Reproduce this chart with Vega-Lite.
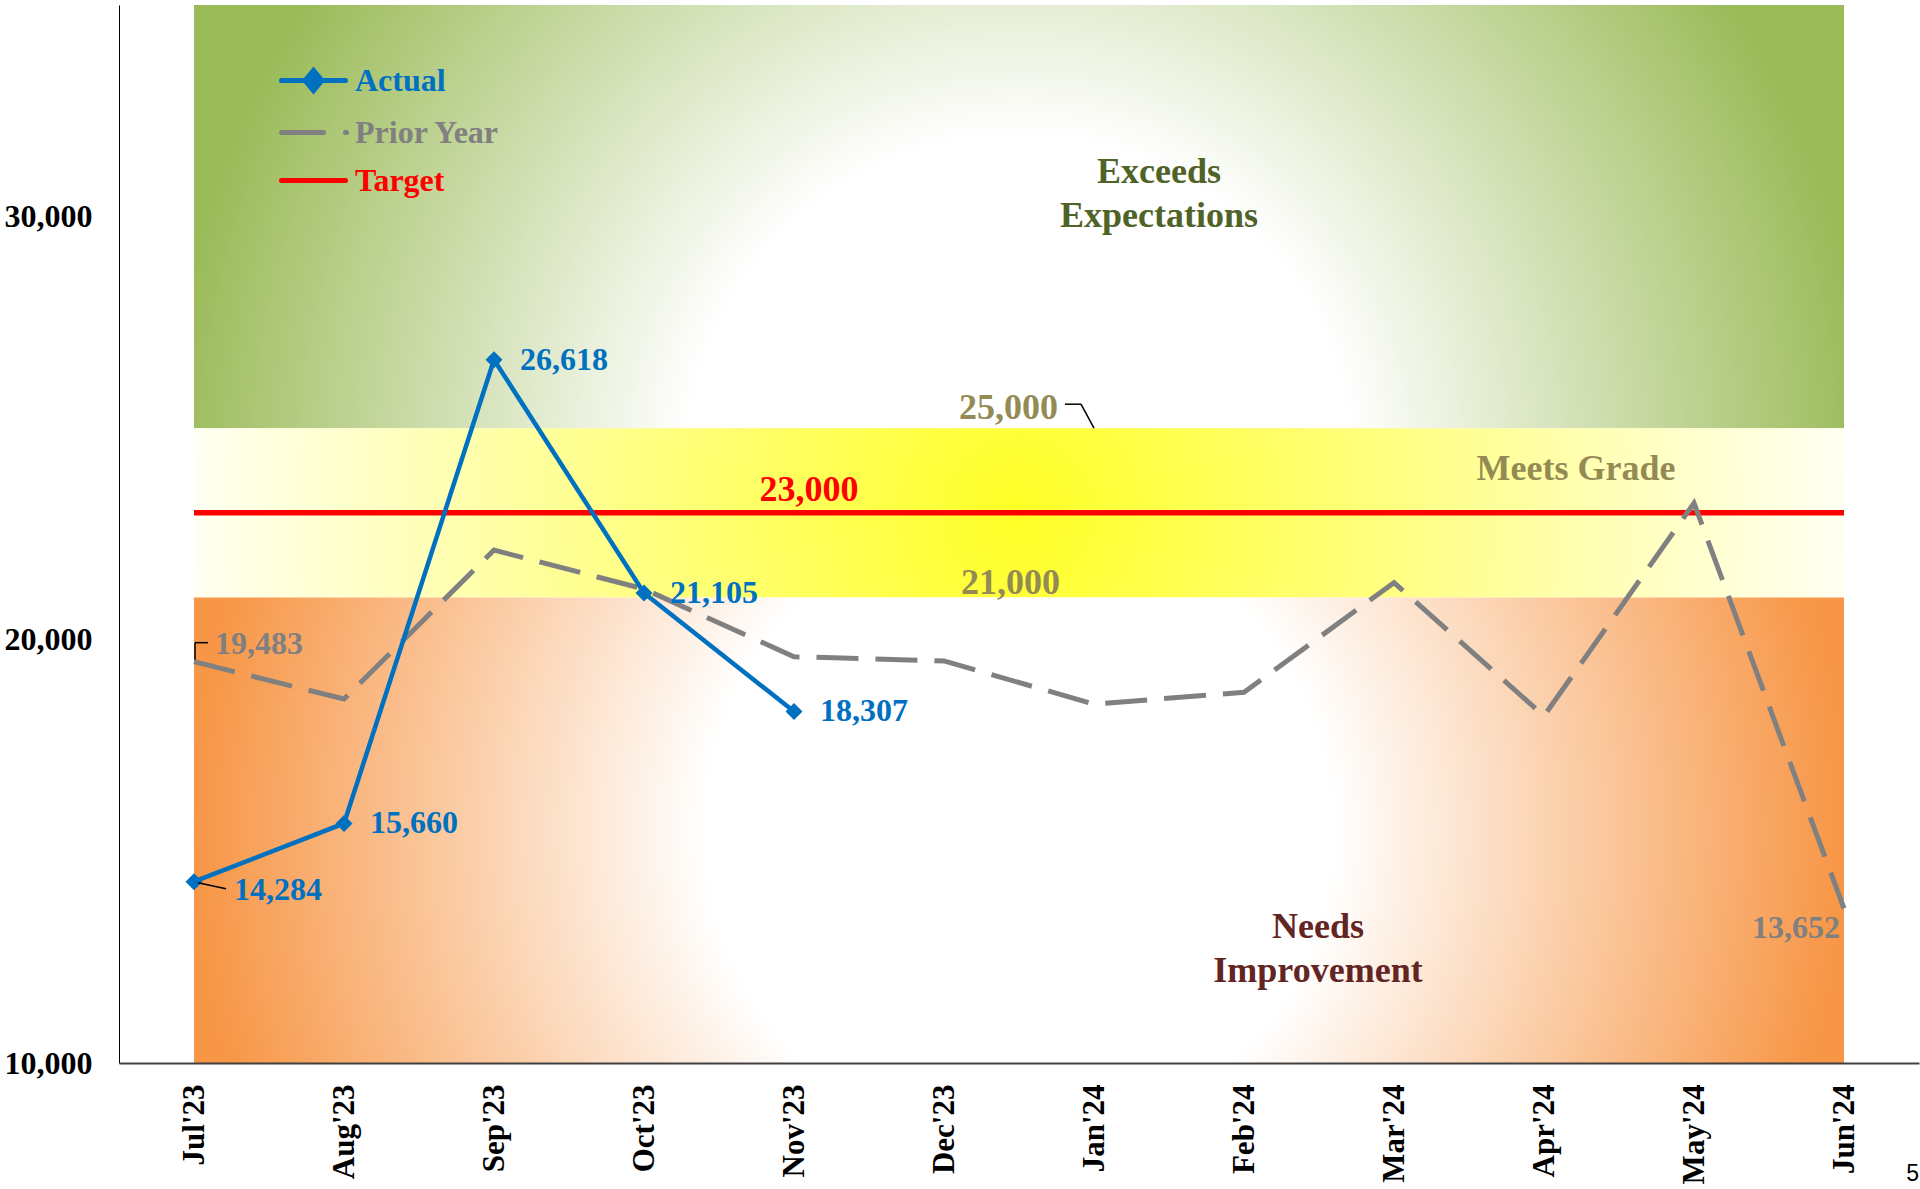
{
  "$schema": "https://vega.github.io/schema/vega-lite/v6.json",
  "width": 1800,
  "height": 1058,
  "autosize": {"type": "none"},
  "padding": {"left": 119, "top": 5, "right": 1, "bottom": 126},
  "background": "white",
  "config": {"view": {"stroke": null}, "font": "Liberation Serif"},
  "title": {"text": "5", "orient": "bottom", "anchor": "end", "frame": "group", "font": "Liberation Sans", "fontSize": 23, "fontWeight": "normal", "color": "black", "offset": -21},
  "datasets": {
    "series": [
      {"series": "Actual", "month": "Jul'23", "value": 14284},
      {"series": "Actual", "month": "Aug'23", "value": 15660},
      {"series": "Actual", "month": "Sep'23", "value": 26618},
      {"series": "Actual", "month": "Oct'23", "value": 21105},
      {"series": "Actual", "month": "Nov'23", "value": 18307},
      {"series": "Prior Year", "month": "Jul'23", "value": 19483},
      {"series": "Prior Year", "month": "Aug'23", "value": 18600},
      {"series": "Prior Year", "month": "Sep'23", "value": 22120},
      {"series": "Prior Year", "month": "Oct'23", "value": 21200},
      {"series": "Prior Year", "month": "Nov'23", "value": 19600},
      {"series": "Prior Year", "month": "Dec'23", "value": 19500},
      {"series": "Prior Year", "month": "Jan'24", "value": 18480},
      {"series": "Prior Year", "month": "Feb'24", "value": 18760},
      {"series": "Prior Year", "month": "Mar'24", "value": 21350},
      {"series": "Prior Year", "month": "Apr'24", "value": 18200},
      {"series": "Prior Year", "month": "May'24", "value": 23230},
      {"series": "Prior Year", "month": "Jun'24", "value": 13652},
      {"series": "Target", "month": "Jul'23", "value": 23000},
      {"series": "Target", "month": "Aug'23", "value": 23000},
      {"series": "Target", "month": "Sep'23", "value": 23000},
      {"series": "Target", "month": "Oct'23", "value": 23000},
      {"series": "Target", "month": "Nov'23", "value": 23000},
      {"series": "Target", "month": "Dec'23", "value": 23000},
      {"series": "Target", "month": "Jan'24", "value": 23000},
      {"series": "Target", "month": "Feb'24", "value": 23000},
      {"series": "Target", "month": "Mar'24", "value": 23000},
      {"series": "Target", "month": "Apr'24", "value": 23000},
      {"series": "Target", "month": "May'24", "value": 23000},
      {"series": "Target", "month": "Jun'24", "value": 23000}
    ],
    "notes": [
      {"key": "hi", "month": "Jan'24", "value": 25000, "label": "25,000"},
      {"key": "lo", "month": "Jan'24", "value": 21000, "label": "21,000"},
      {"key": "tg", "month": "Nov'23", "value": 23000, "label": "23,000"},
      {"key": "mg", "month": "Apr'24", "value": 24000, "label": "Meets Grade"},
      {"key": "ex", "month": "Jan'24", "value": 30000, "label": ["Exceeds", "Expectations"]},
      {"key": "ni", "month": "Feb'24", "value": 12500, "label": ["Needs", "Improvement"]}
    ]
  },
  "encoding": {
    "x": {
      "field": "month", "type": "ordinal",
      "scale": {"type": "point", "padding": 0.5, "domain": ["Jul'23", "Aug'23", "Sep'23", "Oct'23", "Nov'23", "Dec'23", "Jan'24", "Feb'24", "Mar'24", "Apr'24", "May'24", "Jun'24"]},
      "axis": {"title": null, "labelAngle": -90, "labelFont": "Liberation Serif", "labelFontWeight": "bold", "labelFontSize": 31, "labelColor": "black", "labelPadding": 21, "ticks": false, "grid": false, "domainColor": "#404040", "domainWidth": 2}
    },
    "y": {
      "field": "value", "type": "quantitative",
      "scale": {"domain": [10000, 35000], "nice": false, "zero": false},
      "axis": {"title": null, "values": [10000, 20000, 30000], "format": ",.0f", "ticks": false, "grid": false, "labelFont": "Liberation Serif", "labelFontWeight": "bold", "labelFontSize": 32, "labelColor": "black", "labelPadding": 27, "domainColor": "black", "domainWidth": 1}
    }
  },
  "layer": [
    {
      "data": {"values": [{"month": "Jul'23", "end": "Jun'24", "value": 25000, "high": 35000}]},
      "mark": {"type": "rect", "color": {"gradient": "radial", "x1": 0.5, "y1": 0.652, "r1": 0, "x2": 0.5, "y2": 0.652, "r2": 0.515, "stops": [{"offset": 0, "color": "#FFFFFF"}, {"offset": 0.39, "color": "#FFFFFF"}, {"offset": 1, "color": "#9BBB59"}]}},
      "encoding": {"x2": {"field": "end"}, "y2": {"field": "high"}}
    },
    {
      "data": {"values": [{"month": "Jul'23", "end": "Jun'24", "value": 21000, "high": 25000}]},
      "mark": {"type": "rect", "color": {"gradient": "radial", "x1": 0.5, "y1": 0.5, "r1": 0, "x2": 0.5, "y2": 0.5, "r2": 0.5, "stops": [{"offset": 0, "color": "#FFFF26"}, {"offset": 0.45, "color": "#FFFF80"}, {"offset": 1, "color": "#FFFFF2"}]}},
      "encoding": {"x2": {"field": "end"}, "y2": {"field": "high"}}
    },
    {
      "data": {"values": [{"month": "Jul'23", "end": "Jun'24", "value": 10000, "high": 21000}]},
      "mark": {"type": "rect", "color": {"gradient": "radial", "x1": 0.5, "y1": 0.5, "r1": 0, "x2": 0.5, "y2": 0.5, "r2": 0.5, "stops": [{"offset": 0, "color": "#FFFFFF"}, {"offset": 0.38, "color": "#FFFFFF"}, {"offset": 1, "color": "#F79646"}]}},
      "encoding": {"x2": {"field": "end"}, "y2": {"field": "high"}}
    },
    {
      "data": {"name": "series"},
      "transform": [{"filter": "datum.series === 'Target'"}],
      "mark": {"type": "line", "strokeWidth": 5.5},
      "encoding": {"color": {"field": "series", "type": "nominal", "scale": {"domain": ["Actual", "Prior Year", "Target"], "range": ["#0070C0", "#808080", "#FF0000"]}, "legend": {"orient": "none", "legendX": 172, "legendY": 53, "title": null, "padding": 0, "symbolType": "stroke", "symbolSize": 1600, "symbolStrokeWidth": 5, "labelFont": "Liberation Serif", "labelFontWeight": "bold", "labelFontSize": 32, "labelOffset": 19, "rowPadding": 9, "labelLimit": 0, "encode": {"symbols": {"update": {"shape": {"signal": "datum.value === 'Actual' ? 'M-1.6,0L1.6,0M-0.42,0L0,-0.5L0.42,0L0,0.5Z' : datum.value === 'Prior Year' ? 'M-1.6,0L0.5,0M1.6,0L1.65,0' : 'M-1.6,0L1.6,0'"}, "fill": {"signal": "datum.value === 'Actual' ? '#0070C0' : 'transparent'"}, "strokeCap": {"value": "round"}}}, "labels": {"update": {"fill": {"signal": "scale('color', datum.value)"}}}}}}}
    },
    {
      "data": {"name": "series"},
      "transform": [{"filter": "datum.series === 'Prior Year'"}],
      "mark": {"type": "line", "strokeWidth": 5, "strokeDash": [42, 17]},
      "encoding": {"color": {"field": "series", "type": "nominal", "scale": {"domain": ["Actual", "Prior Year", "Target"], "range": ["#0070C0", "#808080", "#FF0000"]}}}
    },
    {
      "data": {"name": "series"},
      "transform": [{"filter": "datum.series === 'Actual'"}],
      "mark": {"type": "line", "strokeWidth": 4.5},
      "encoding": {"color": {"field": "series", "type": "nominal", "scale": {"domain": ["Actual", "Prior Year", "Target"], "range": ["#0070C0", "#808080", "#FF0000"]}}}
    },
    {
      "data": {"name": "series"},
      "transform": [{"filter": "datum.series === 'Actual'"}],
      "mark": {"type": "point", "shape": "diamond", "size": 289, "filled": true, "opacity": 1, "color": "#0070C0"}
    },
    {
      "data": {"name": "series"},
      "transform": [{"filter": "datum.series === 'Actual' && datum.month !== \"Jul'23\""}],
      "mark": {"type": "text", "align": "left", "baseline": "middle", "dx": 26, "font": "Liberation Serif", "fontWeight": "bold", "fontSize": 32, "color": "#0070C0"},
      "encoding": {"text": {"field": "value", "type": "quantitative", "format": ","}}
    },
    {
      "data": {"name": "series"},
      "transform": [{"filter": "datum.series === 'Actual' && datum.month === \"Jul'23\""}],
      "mark": {"type": "text", "align": "left", "baseline": "middle", "dx": 40, "dy": 8, "font": "Liberation Serif", "fontWeight": "bold", "fontSize": 32, "color": "#0070C0"},
      "encoding": {"text": {"field": "value", "type": "quantitative", "format": ","}}
    },
    {
      "data": {"name": "series"},
      "transform": [{"filter": "datum.series === 'Actual' && datum.month === \"Jul'23\""}],
      "mark": {"type": "rule", "color": "black", "strokeWidth": 1.5, "xOffset": 4, "yOffset": 1, "x2Offset": 32, "y2Offset": 7},
      "encoding": {"x2": {"field": "month"}, "y2": {"field": "value"}}
    },
    {
      "data": {"name": "series"},
      "transform": [{"filter": "datum.series === 'Prior Year' && datum.month === \"Jul'23\""}],
      "mark": {"type": "text", "align": "left", "baseline": "middle", "dx": 21, "dy": -18, "font": "Liberation Serif", "fontWeight": "bold", "fontSize": 32, "color": "#808080"},
      "encoding": {"text": {"field": "value", "type": "quantitative", "format": ","}}
    },
    {
      "data": {"name": "series"},
      "transform": [{"filter": "datum.series === 'Prior Year' && datum.month === \"Jul'23\""}],
      "mark": {"type": "rule", "color": "black", "strokeWidth": 1.5, "xOffset": 1, "yOffset": -2, "x2Offset": 1, "y2Offset": -19},
      "encoding": {"x2": {"field": "month"}, "y2": {"field": "value"}}
    },
    {
      "data": {"name": "series"},
      "transform": [{"filter": "datum.series === 'Prior Year' && datum.month === \"Jul'23\""}],
      "mark": {"type": "rule", "color": "black", "strokeWidth": 1.5, "xOffset": 1, "yOffset": -19, "x2Offset": 14, "y2Offset": -19},
      "encoding": {"x2": {"field": "month"}, "y2": {"field": "value"}}
    },
    {
      "data": {"name": "series"},
      "transform": [{"filter": "datum.series === 'Prior Year' && datum.month === \"Jun'24\""}],
      "mark": {"type": "text", "align": "right", "baseline": "middle", "dx": -4, "dy": 20, "font": "Liberation Serif", "fontWeight": "bold", "fontSize": 32, "color": "#808080"},
      "encoding": {"text": {"field": "value", "type": "quantitative", "format": ","}}
    },
    {
      "data": {"name": "notes"},
      "transform": [{"filter": "datum.key === 'hi'"}],
      "mark": {"type": "text", "align": "right", "baseline": "middle", "dx": -36, "dy": -20, "font": "Liberation Serif", "fontWeight": "bold", "fontSize": 36, "color": "#948A54"},
      "encoding": {"text": {"field": "label"}}
    },
    {
      "data": {"name": "notes"},
      "transform": [{"filter": "datum.key === 'hi'"}],
      "mark": {"type": "rule", "color": "black", "strokeWidth": 1.5, "xOffset": -29, "yOffset": -24, "x2Offset": -13, "y2Offset": -24},
      "encoding": {"x2": {"field": "month"}, "y2": {"field": "value"}}
    },
    {
      "data": {"name": "notes"},
      "transform": [{"filter": "datum.key === 'hi'"}],
      "mark": {"type": "rule", "color": "black", "strokeWidth": 1.5, "xOffset": -13, "yOffset": -24, "x2Offset": 0, "y2Offset": 0},
      "encoding": {"x2": {"field": "month"}, "y2": {"field": "value"}}
    },
    {
      "data": {"name": "notes"},
      "transform": [{"filter": "datum.key === 'lo'"}],
      "mark": {"type": "text", "align": "right", "baseline": "middle", "dx": -34, "dy": -14, "font": "Liberation Serif", "fontWeight": "bold", "fontSize": 36, "color": "#948A54"},
      "encoding": {"text": {"field": "label"}}
    },
    {
      "data": {"name": "notes"},
      "transform": [{"filter": "datum.key === 'tg'"}],
      "mark": {"type": "text", "align": "center", "baseline": "middle", "dx": 15, "dy": -23, "font": "Liberation Serif", "fontWeight": "bold", "fontSize": 36, "color": "#FF0000"},
      "encoding": {"text": {"field": "label"}}
    },
    {
      "data": {"name": "notes"},
      "transform": [{"filter": "datum.key === 'mg'"}],
      "mark": {"type": "text", "align": "center", "baseline": "middle", "dx": 32, "dy": -2, "font": "Liberation Serif", "fontWeight": "bold", "fontSize": 36, "color": "#948A54"},
      "encoding": {"text": {"field": "label"}}
    },
    {
      "data": {"name": "notes"},
      "transform": [{"filter": "datum.key === 'ex'"}],
      "mark": {"type": "text", "align": "center", "baseline": "middle", "dx": 65, "dy": -45, "lineHeight": 44, "font": "Liberation Serif", "fontWeight": "bold", "fontSize": 36, "color": "#4F6228"},
      "encoding": {"text": {"field": "label"}}
    },
    {
      "data": {"name": "notes"},
      "transform": [{"filter": "datum.key === 'ni'"}],
      "mark": {"type": "text", "align": "center", "baseline": "middle", "dx": 74, "dy": -30, "lineHeight": 44, "font": "Liberation Serif", "fontWeight": "bold", "fontSize": 36, "color": "#632523"},
      "encoding": {"text": {"field": "label"}}
    }
  ]
}
